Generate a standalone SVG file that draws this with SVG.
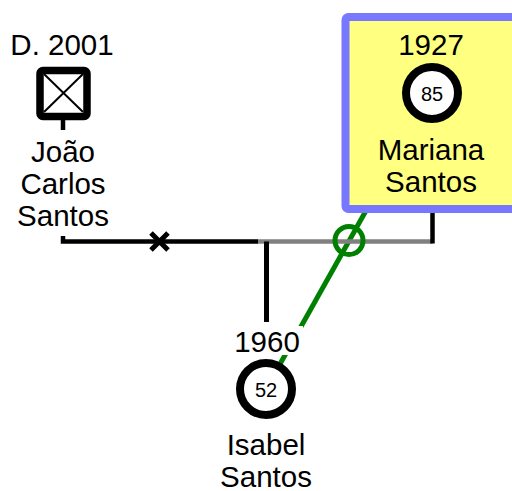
<svg xmlns="http://www.w3.org/2000/svg" width="512" height="491" viewBox="0 0 512 491">
<style>
text{font-family:"Liberation Sans",Arial,sans-serif;fill:#000;text-anchor:middle}
.t{font-size:29.5px}
.age{font-size:20px}
.ring{fill:#fff;stroke:#000;stroke-width:8}
</style>
<rect width="512" height="491" fill="#fff"/>
<g id="connectors" fill="none">
  <line x1="266" y1="389" x2="432" y2="93" stroke="#008000" stroke-width="5"/>
  <path d="M63,236 V241.5 H258" stroke="#000" stroke-width="4.5"/>
  <line x1="258" y1="241.5" x2="432.5" y2="241.5" stroke="#808080" stroke-width="4.5"/>
  <line x1="432.5" y1="205" x2="432.5" y2="243.5" stroke="#000" stroke-width="4.5"/>
  <line x1="266.5" y1="241.5" x2="266.5" y2="322" stroke="#000" stroke-width="5"/>
  <path d="M151,233 L168,250 M168,233 L151,250" stroke="#000" stroke-width="5"/>
  <circle cx="349" cy="240.5" r="14" stroke="#008000" stroke-width="5"/>
</g>
<g id="joao">
  <text class="t" x="62" y="55">D. 2001</text>
  <rect x="40" y="70.5" width="47" height="46" rx="3" fill="#fff" stroke="#000" stroke-width="7.5"/>
  <path d="M44,74 L83,112 M83,74 L44,112" stroke="#000" stroke-width="2" fill="none"/>
  <line x1="63" y1="120" x2="63" y2="130" stroke="#000" stroke-width="4.5"/>
  <text class="t" x="63" y="162">João</text>
  <text class="t" x="63" y="194">Carlos</text>
  <text class="t" x="63" y="226">Santos</text>
</g>
<g id="mariana">
  <rect x="345.5" y="17" width="180" height="192" rx="3" fill="#ffff80" stroke="#7777ff" stroke-width="8"/>
  <text class="t" x="431" y="55">1927</text>
  <circle class="ring" cx="432" cy="93" r="26"/>
  <text class="age" x="432" y="100.5">85</text>
  <text class="t" x="431" y="160">Mariana</text>
  <text class="t" x="431" y="192">Santos</text>
</g>
<g id="isabel">
  <rect x="232" y="326" width="71" height="29" fill="#fff"/>
  <text class="t" x="267" y="352">1960</text>
  <circle class="ring" cx="266" cy="389" r="26"/>
  <text class="age" x="266" y="396.5">52</text>
  <text class="t" x="266" y="455">Isabel</text>
  <text class="t" x="266" y="486.5">Santos</text>
</g>
</svg>
